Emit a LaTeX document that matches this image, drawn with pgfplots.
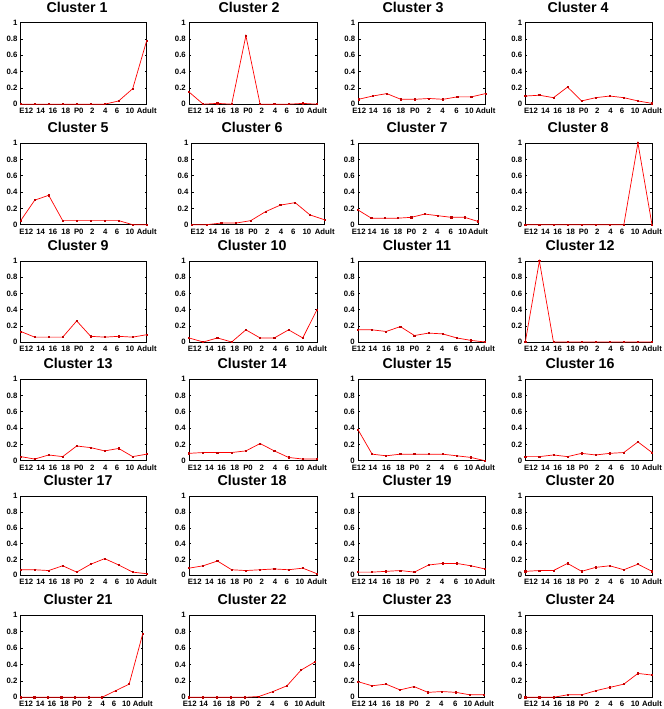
\documentclass[border=0pt]{standalone}
\usepackage{pgfplots}
\pgfplotsset{compat=1.18}
\usepackage{pgfplotstable}
\usepackage{fontspec}
\setmainfont{Liberation Sans}

\pgfplotstableread{
t c1 c2 c3 c4 c5 c6 c7 c8 c9 c10 c11 c12 c13 c14 c15 c16 c17 c18 c19 c20 c21 c22 c23 c24
0 0 0.15 0.06 0.10 0.05 0 0.18 0 0.13 0.05 0.15 0 0.05 0.09 0.38 0.05 0.07 0.09 0.04 0.05 0 0 0.19 0
1 0 0 0.10 0.11 0.30 0 0.08 0 0.06 0 0.15 1 0.02 0.10 0.08 0.05 0.07 0.12 0.04 0.06 0 0 0.14 0
2 0 0.01 0.13 0.08 0.36 0.02 0.08 0 0.06 0.05 0.13 0 0.07 0.10 0.06 0.07 0.06 0.18 0.05 0.06 0 0 0.16 0
3 0 0 0.06 0.21 0.05 0.02 0.08 0 0.06 0 0.19 0 0.05 0.10 0.08 0.05 0.12 0.07 0.06 0.15 0 0 0.09 0.03
4 0 0.84 0.06 0.04 0.05 0.05 0.09 0 0.26 0.15 0.08 0 0.18 0.12 0.08 0.09 0.04 0.06 0.04 0.05 0 0 0.13 0.03
5 0 0 0.07 0.08 0.05 0.16 0.13 0 0.07 0.05 0.11 0 0.16 0.21 0.08 0.07 0.14 0.07 0.13 0.10 0 0.01 0.06 0.08
6 0 0 0.06 0.10 0.05 0.24 0.11 0 0.06 0.05 0.10 0 0.12 0.12 0.08 0.09 0.21 0.08 0.15 0.12 0 0.07 0.07 0.12
7 0.04 0 0.09 0.08 0.05 0.27 0.09 0 0.07 0.15 0.05 0 0.15 0.04 0.06 0.10 0.13 0.07 0.15 0.07 0.08 0.14 0.06 0.16
8 0.19 0.01 0.09 0.04 0 0.12 0.09 1 0.06 0.05 0.02 0 0.05 0.02 0.04 0.23 0.04 0.09 0.12 0.14 0.16 0.33 0.03 0.29
9 0.78 0 0.13 0.01 0 0.06 0.04 0 0.09 0.40 0 0 0.08 0.02 0 0.10 0.02 0.02 0.08 0.05 0.77 0.43 0.03 0.27
}\clusterdata

\pgfplotsset{
  cl/.style={
    anchor=north west, scale only axis,
    xmin=0, xmax=9, ymin=0, ymax=1,
    xticklabels={E12,14,16,18,P0,2,4,6,10,Adult},
    ytick={0,0.2,0.4,0.6,0.8,1},
    yticklabels={0,0.2,0.4,0.6,0.8,1},
    tick align=inside, major tick length=2bp,
    xtick pos=both, ytick pos=both,
    tick style={black, line width=0.4bp},
    xtick style={draw=none},
    axis line style={black, line width=0.5bp},
    tick label style={font=\bfseries\fontsize{7.8}{9}\selectfont},
    xticklabel style={yshift=-0.5bp},
    yticklabel style={xshift=0.3bp},
    xticklabel pos=lower, yticklabel pos=left,
    clip=false,
  },
  ta/.style={xtick={0.4,1.43,2.3,3.22,4.15,5.12,6.05,6.88,7.8,9.0}},
  tb/.style={xtick={0.05,1.05,2.02,3,4,5,5.95,6.95,7.85,9}},
}

% #1 left, #2 top (from top), #3 width, #4 height, #5 number, #6 tick style
\newcommand{\panel}[6]{%
  \begin{axis}[cl, #6, at={(#1bp,709bp-#2bp)}, width=#3bp, height=#4bp]
    \addplot[color=red, line width=0.7bp, mark=square*, mark size=0.6bp,
      mark options={fill=red!75!black, draw=red!75!black}]
      table[x=t, y=c#5] {\clusterdata};
  \end{axis}
}
\newcommand{\tfont}{\bfseries\fontsize{14.3}{14}\selectfont}
% #1 centre x, #2 top of axis (from top), #3 number
\newcommand{\ctitle}[3]{%
  \node[font=\tfont, anchor=base, inner sep=0pt]
    at (#1bp, 709bp-#2bp+10bp) {Cluster #3};
}

\begin{document}
\begin{tikzpicture}[x=1bp,y=1bp]
\path[use as bounding box] (0bp,0bp) rectangle (664bp,709bp);
% row 1
\panel{20.7}{22.7}{126}{81.5}{1}{ta}
\panel{189}{22.7}{128}{81.5}{2}{ta}
\panel{358.5}{22.7}{127}{81.5}{3}{tb}
\panel{525.3}{22.7}{126.7}{81.5}{4}{ta}
% row 2
\panel{20.7}{143}{126}{81.7}{5}{ta}
\panel{191.7}{143}{133}{81.7}{6}{ta}
\panel{358}{143}{120}{81.7}{7}{tb}
\panel{525.3}{143}{126.7}{81.7}{8}{ta}
% row 3
\panel{20.7}{261}{126}{81}{9}{ta}
\panel{189}{261}{128}{81}{10}{ta}
\panel{358}{261}{127}{81}{11}{tb}
\panel{525.3}{261}{126.7}{81}{12}{ta}
% row 4
\panel{20.7}{379}{126}{81.7}{13}{ta}
\panel{189}{379}{128}{81.7}{14}{ta}
\panel{358}{379}{127}{81.7}{15}{tb}
\panel{525.3}{379}{126.7}{81.7}{16}{ta}
% row 5
\panel{20.7}{496}{126}{79.3}{17}{ta}
\panel{189}{496}{128}{79.3}{18}{ta}
\panel{358}{496}{127}{79.3}{19}{tb}
\panel{525.3}{496}{126.7}{79.3}{20}{ta}
% row 6
\panel{20.7}{615}{122}{82.3}{21}{ta}
\panel{189}{615}{126}{82.3}{22}{tb}
\panel{358}{615}{126}{82.3}{23}{tb}
\panel{525.3}{615}{126.7}{82.3}{24}{ta}
% titles
\ctitle{77}{22.7}{1}  \ctitle{249}{22.7}{2}  \ctitle{413}{22.7}{3}  \ctitle{578}{22.7}{4}
\ctitle{78}{143}{5}   \ctitle{252}{143}{6}   \ctitle{417}{143}{7}   \ctitle{578}{143}{8}
\ctitle{78}{261}{9}   \ctitle{252}{261}{10}  \ctitle{417}{261}{11}  \ctitle{580}{261}{12}
\ctitle{78}{379}{13}  \ctitle{252}{379}{14}  \ctitle{417}{379}{15}  \ctitle{580}{379}{16}
\ctitle{78}{496}{17}  \ctitle{252}{496}{18}  \ctitle{417}{496}{19}  \ctitle{580}{496}{20}
\ctitle{78}{615}{21}  \ctitle{252}{615}{22}  \ctitle{417}{615}{23}  \ctitle{580}{615}{24}
\end{tikzpicture}
\end{document}
